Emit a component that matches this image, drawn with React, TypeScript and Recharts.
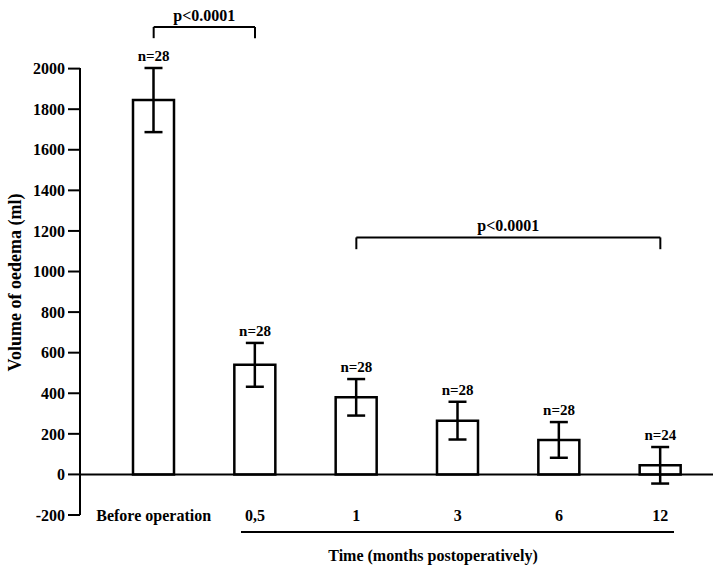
import {
  Bar,
  ComposedChart,
  ErrorBar,
  LabelList,
  Line,
  ReferenceLine,
  XAxis,
  YAxis,
} from "recharts";

const CATEGORIES = ["Before operation", "0,5", "1", "3", "6", "12"];
const MEAN_VOLUME = [1845, 540, 380, 265, 170, 45];
const SEM_VOLUME = [158, 108, 90, 93, 88, 90];
const N_PATIENTS = [28, 28, 28, 28, 28, 24];
const Y_TICKS = [-200, 0, 200, 400, 600, 800, 1000, 1200, 1400, 1600, 1800, 2000];

const rows = CATEGORIES.map((cat, i) => ({
  cat,
  mean: MEAN_VOLUME[i],
  err: SEM_VOLUME[i],
  top: MEAN_VOLUME[i] + SEM_VOLUME[i],
  n: `n=${N_PATIENTS[i]}`,
}));

const FONT = "Liberation Serif";
const txt = {
  fontFamily: FONT,
  fontWeight: 700,
  fill: "#000",
  style: { fontFamily: FONT, fontWeight: 700 },
};

function XTick({ x, y, payload }: any) {
  return (
    <text x={x} y={y + 6} textAnchor="middle" fontSize={16} {...txt}>
      {payload.value}
    </text>
  );
}

function XTitle({ viewBox }: any) {
  const { x, y } = viewBox;
  return (
    <g>
      <line x1={x + 161} x2={x + 594} y1={y + 17} y2={y + 17} stroke="#000" strokeWidth={2} />
      <text x={x + 353} y={y + 46} textAnchor="middle" fontSize={16} {...txt}>
        Time (months postoperatively)
      </text>
    </g>
  );
}

const bracketLabel = (value: string) => ({
  value,
  position: "top" as const,
  offset: 6,
  fontSize: 16,
  ...txt,
});

export default function App() {
  return (
    <div style={{ position: "absolute", left: 0, top: 0, background: "#fff" }}>
      <ComposedChart
        width={713}
        height={566}
        data={rows}
        margin={{ top: 68, right: 0, bottom: 0, left: 0 }}
      >
        <XAxis
          dataKey="cat"
          axisLine={false}
          tickLine={false}
          tickSize={0}
          tickMargin={0}
          interval={0}
          height={51}
          padding={{ left: 23, right: 2 }}
          tick={<XTick />}
          label={<XTitle />}
        />
        <YAxis
          type="number"
          domain={[-200, 2000]}
          ticks={Y_TICKS}
          interval={0}
          width={80}
          tickSize={12}
          tickMargin={3}
          axisLine={{ stroke: "#000", strokeWidth: 2 }}
          tickLine={{ stroke: "#000", strokeWidth: 2 }}
          tick={{ fontSize: 16, ...txt }}
          label={{
            value: "Volume of oedema (ml)",
            angle: -90,
            position: "insideLeft",
            offset: 15,
            dy: -9,
            textAnchor: "middle",
            fontSize: 18,
            ...txt,
          }}
        />
        <ReferenceLine y={0} stroke="#000" strokeWidth={2} />
        <Bar
          dataKey="mean"
          fill="#fff"
          stroke="#000"
          strokeWidth={2.5}
          barSize={41}
          isAnimationActive={false}
        >
          <ErrorBar dataKey="err" width={9} stroke="#000" strokeWidth={2.5} />
        </Bar>
        <Line
          dataKey="top"
          stroke="none"
          dot={false}
          activeDot={false}
          isAnimationActive={false}
        >
          <LabelList dataKey="n" position="top" offset={7} fontSize={15} {...txt} />
        </Line>

        {/* p-value brackets */}
        <ReferenceLine
          segment={[{ x: "Before operation", y: 2205 }, { x: "0,5", y: 2205 }]}
          ifOverflow="visible"
          stroke="#000"
          strokeWidth={2}
          label={bracketLabel("p<0.0001")}
        />
        <ReferenceLine
          segment={[{ x: "Before operation", y: 2205 }, { x: "Before operation", y: 2150 }]}
          ifOverflow="visible"
          stroke="#000"
          strokeWidth={2}
        />
        <ReferenceLine
          segment={[{ x: "0,5", y: 2205 }, { x: "0,5", y: 2150 }]}
          ifOverflow="visible"
          stroke="#000"
          strokeWidth={2}
        />
        <ReferenceLine
          segment={[{ x: "1", y: 1168 }, { x: "12", y: 1168 }]}
          ifOverflow="visible"
          stroke="#000"
          strokeWidth={2}
          label={bracketLabel("p<0.0001")}
        />
        <ReferenceLine
          segment={[{ x: "1", y: 1168 }, { x: "1", y: 1110 }]}
          ifOverflow="visible"
          stroke="#000"
          strokeWidth={2}
        />
        <ReferenceLine
          segment={[{ x: "12", y: 1168 }, { x: "12", y: 1110 }]}
          ifOverflow="visible"
          stroke="#000"
          strokeWidth={2}
        />
      </ComposedChart>
    </div>
  );
}
